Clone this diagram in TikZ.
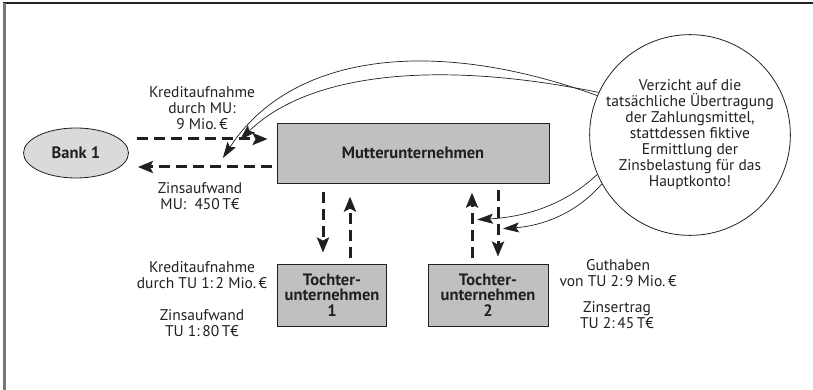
\documentclass[tikz,border=0pt]{standalone}
\usepackage{fontspec}
\setmainfont{PT Sans}
\usetikzlibrary{
    arrows.meta,
    calc,
    positioning,
    shapes.geometric
}
\definecolor{ink}{RGB}{35,31,32}
\definecolor{boxgray}{RGB}{192,192,194}
\definecolor{bankgray}{RGB}{218,218,218}
\definecolor{framegray}{RGB}{120,120,120}
\newcommand{\labelsize}{\fontsize{15.5}{16}\selectfont}
\newcommand{\boxsize}{\fontsize{16.5}{15.5}\selectfont}
\tikzset{
    line join=round,
    company/.style={
        rectangle,
        draw=ink,
        line width=0.8pt,
        fill=boxgray,
        text=ink,
        align=center,
        font=\bfseries\boxsize
    },
    bank/.style={
        ellipse,
        draw=ink,
        line width=0.8pt,
        fill=bankgray,
        text=ink,
        minimum width=105pt,
        minimum height=50pt,
        font=\bfseries\boxsize
    },
    note/.style={
        circle,
        draw=ink,
        line width=0.8pt,
        minimum size=192pt,
        inner sep=0pt,
        align=center,
        text=ink,
        font=\labelsize
    },
    amount/.style={
        align=center,
        text=ink,
        font=\labelsize
    },
    flow/.style={
        -{Stealth[length=15pt,width=12pt,inset=3pt]},
        draw=ink,
        line width=3pt,
        dash pattern=on 11pt off 6pt
    },
    pointer/.style={
        -{Stealth[length=16pt,width=10pt,inset=3pt]},
        draw=ink,
        line width=0.7pt
    }
}

\begin{document}
\begin{tikzpicture}[x=1pt, y=-1pt]

\useasboundingbox (0,0) rectangle (813,390);

% --- Frame ---
\draw[ink, line width=1.5pt] (3,3) -- (813,3);
\draw[framegray, line width=3pt] (4,3) -- (4,390);

% --- Nodes ---
\node[bank] (bank) at (76,153) {Bank 1};
\node[company, minimum width=272pt, minimum height=60pt] (mu) at (413,153) {Mutterunternehmen};
\node[company, minimum width=109pt, minimum height=62pt] (tu1) at (332,295) {Tochter-\\unternehmen\\1};
\node[company, minimum width=120pt, minimum height=62pt] (tu2) at (488,295) {Tochter-\\unternehmen\\2};
\node[note] (hint) at (690,135) {Verzicht auf die\\tatsächliche Übertragung\\der Zahlungsmittel,\\stattdessen fiktive\\Ermittlung der\\Zinsbelastung für das\\Hauptkonto!};

% --- Amounts ---
\node[amount] (creditmu) at (202,108) {Kreditaufnahme\\durch MU:\\9 Mio.\,€};
\node[amount] (interestmu) at (200,196) {Zinsaufwand\\MU:~~450\,T€};
\node[amount] (credittu1) at (202,275) {Kreditaufnahme\\durch TU 1:\,2 Mio.\,€};
\node[amount] (interesttu1) at (202,323) {Zinsaufwand\\TU 1:\,80\,T€};
\node[amount] (deposittu2) at (618,273) {Guthaben\\von TU 2:\,9 Mio.\,€};
\node[amount] (incometu2) at (617,315) {Zinsertrag\\TU 2:\,45\,T€};

% --- Bank <-> MU ---
\draw[flow] ($(bank.east)+(8,-14)$) -- ($(mu.west)+(-9,-14)$);
\draw[flow] ($(mu.west)+(-5,14)$) -- ($(bank.east)+(9,14)$);

% --- MU <-> TU ---
\draw[flow] ($(tu1.north)+(-9,-72)$) -- ($(tu1.north)+(-9,-11)$);
\draw[flow] ($(tu1.north)+(18,-6)$) -- ($(tu1.north)+(18,-67)$);
\draw[flow] ($(tu2.north)+(-16,-6)$) -- ($(tu2.north)+(-16,-71)$);
\draw[flow] ($(tu2.north)+(10,-74)$) -- ($(tu2.north)+(10,-7)$);

% --- Hint pointers ---
\draw[pointer] (hint.157) .. controls (430,35) and (290,55) .. ($(bank.east)+(94,5)$);
\draw[pointer] (hint.155) .. controls (440,60) and (310,72) .. ($(bank.east)+(111,-13)$);
\draw[pointer] (hint.203) .. controls (565,205) and (525,217) .. ($(tu2.north)+(-11,-44)$);
\draw[pointer] (hint.209) .. controls (575,215) and (540,226) .. ($(tu2.north)+(15,-35)$);

\end{tikzpicture}
\end{document}
